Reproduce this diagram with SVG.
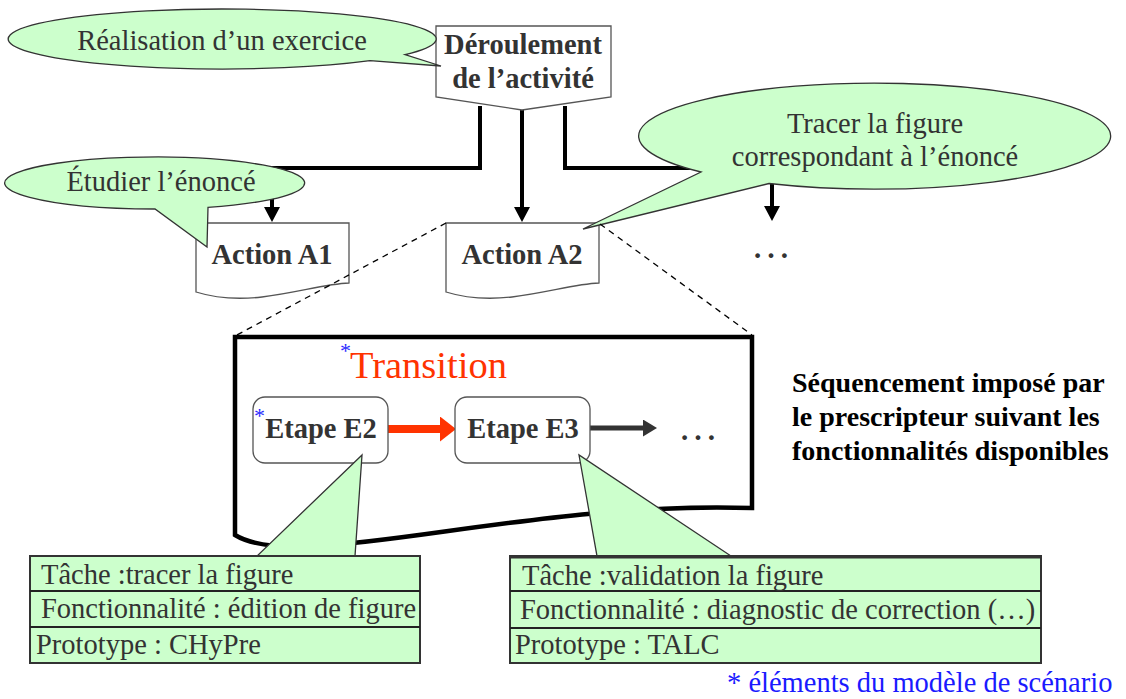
<svg xmlns="http://www.w3.org/2000/svg" width="1126" height="699" viewBox="0 0 1126 699">
<style>
text{font-family:"Liberation Serif","Times New Roman",serif;}
.t{font-size:28.5px;fill:#333333;}
.b{font-size:28.5px;font-weight:bold;fill:#333333;}
.rb{font-size:28px;font-weight:bold;fill:#000000;}
.call{fill:#ccffcc;stroke:#333333;stroke-width:1.3;}
.box{fill:#ffffff;stroke:#555555;stroke-width:1.3;}
.conn{fill:none;stroke:#000000;stroke-width:4;}
.dash{fill:none;stroke:#000000;stroke-width:1.3;stroke-dasharray:6 5;}
.tbl{fill:#ccffcc;stroke:#333333;stroke-width:2;}
.row{stroke:#222222;stroke-width:2;}
.star{font-size:22px;fill:#2a2aff;}
</style>
<defs>
<marker id="ah" markerUnits="userSpaceOnUse" markerWidth="16" markerHeight="16" viewBox="0 0 16 16" refX="0" refY="8" orient="auto">
<path d="M0,0 L15,8 L0,16 Z" fill="#000000"/>
</marker>
<marker id="ahRed" markerUnits="userSpaceOnUse" markerWidth="17" markerHeight="25" viewBox="0 0 17 25" refX="0" refY="12.5" orient="auto">
<path d="M0,0 L16,12.5 L0,25 Z" fill="#ff3300"/>
</marker>
<marker id="ahGray" markerUnits="userSpaceOnUse" markerWidth="15" markerHeight="17" viewBox="0 0 15 17" refX="0" refY="8.5" orient="auto">
<path d="M0,0 L14,8.5 L0,17 Z" fill="#333333"/>
</marker>
<path id="doc" d="M0,0 H153 V60 C129,61 104,69 66,74 C39,77 16,74 0,69 Z"/>
</defs>

<g id="node-frame">
<path d="M235,337 H752 V508 C520,500 300,575 235,535 Z" fill="none" stroke="#000000" stroke-width="4.5"/>
<text x="340" y="358" class="star">*</text>
<text x="350" y="378" style="font-size:38.5px;fill:#ff3300">Transition</text>
</g>

<g id="connectors">
<path class="conn" d="M480,106 V168 H272 V207" marker-end="url(#ah)"/>
<path class="conn" d="M522,110 V207" marker-end="url(#ah)"/>
<path class="conn" d="M565,106 V168 H772 V206" marker-end="url(#ah)"/>
<line x1="388" y1="429" x2="440" y2="429" stroke="#ff3300" stroke-width="8" marker-end="url(#ahRed)"/>
<line x1="590" y1="428" x2="643" y2="428" stroke="#333333" stroke-width="5" marker-end="url(#ahGray)"/>
</g>

<g id="node-deroulement">
<polygon class="box" points="436,26 611,26 611,97 522,110 436,97"/>
<text class="b" x="523" y="54" text-anchor="middle">Déroulement</text>
<text class="b" x="523" y="88" text-anchor="middle">de l’activité</text>
</g>

<g id="callout-realisation">
<path class="call" d="M370,60.7 A214,30 0 1 1 405,54.6 L441,66 Z"/>
<text class="t" x="222" y="50" text-anchor="middle">Réalisation d’un exercice</text>
</g>

<g id="node-actionA1">
<use href="#doc" class="box" transform="translate(196,223)"/>
<text class="b" x="272" y="264" text-anchor="middle">Action A1</text>
</g>

<g id="node-actionA2">
<use href="#doc" class="box" transform="translate(446,223)"/>
<text class="b" x="522" y="264" text-anchor="middle">Action A2</text>
</g>

<g id="node-etc-top">
<text class="t" x="751" y="258" style="font-size:40px">…</text>
</g>

<g id="callout-etudier">
<path class="call" d="M155,209 A150,26 0 1 1 208,207.3 L207,247 Z"/>
<text class="t" x="161" y="191" text-anchor="middle">Étudier l’énoncé</text>
</g>

<g id="callout-tracer">
<path class="call" d="M701,172 A236,53 0 1 1 769,183.5 L583,229 Z"/>
<text class="t" x="875" y="133" text-anchor="middle">Tracer la figure</text>
<text class="t" x="875" y="166" text-anchor="middle">correspondant à l’énoncé</text>
</g>

<g id="zoom-lines">
<line class="dash" x1="446" y1="223" x2="235" y2="336"/>
<line class="dash" x1="600" y1="224" x2="752" y2="335"/>
</g>

<g id="node-E2">
<rect class="box" x="253" y="397" width="135" height="66" rx="12"/>
<text x="254" y="423" class="star">*</text>
<text class="b" x="321" y="438" text-anchor="middle">Etape E2</text>
</g>

<g id="node-E3">
<rect class="box" x="455" y="397" width="135" height="66" rx="12"/>
<text class="b" x="523" y="438" text-anchor="middle">Etape E3</text>
</g>

<g id="node-etc-bottom">
<text class="t" x="678" y="440" style="font-size:40px">…</text>
</g>

<g id="node-sequencement">
<text class="rb" x="792" y="392">Séquencement imposé par</text>
<text class="rb" x="792" y="426">le prescripteur suivant les</text>
<text class="rb" x="792" y="460">fonctionnalités disponibles</text>
</g>

<g id="node-table1">
<polygon class="call" points="362,455 257,556 355,556"/>
<rect class="tbl" x="30" y="556" width="390" height="107"/>
<line class="row" x1="30" y1="591" x2="420" y2="591"/>
<line class="row" x1="30" y1="627" x2="420" y2="627"/>
<text class="t" x="41" y="584">Tâche :tracer la figure</text>
<text class="t" x="41" y="618">Fonctionnalité : édition de figure</text>
<text class="t" x="36" y="654">Prototype : CHyPre</text>
</g>

<g id="node-table2">
<polygon class="call" points="579,455 597,556 731,556"/>
<rect class="tbl" x="510" y="556" width="531" height="107"/>
<line x1="510" y1="557" x2="1041" y2="557" stroke="#333333" stroke-width="3"/>
<line class="row" x1="510" y1="591" x2="1041" y2="591"/>
<line class="row" x1="510" y1="628" x2="1041" y2="628"/>
<text class="t" x="522" y="585">Tâche :validation la figure</text>
<text class="t" x="520" y="619">Fonctionnalité : diagnostic de correction (…)</text>
<text class="t" x="515" y="654">Prototype : TALC</text>
</g>

<g id="legend">
<text x="727" y="692" style="font-size:28.5px;fill:#1a1aff">* éléments du modèle de scénario</text>
</g>
</svg>
